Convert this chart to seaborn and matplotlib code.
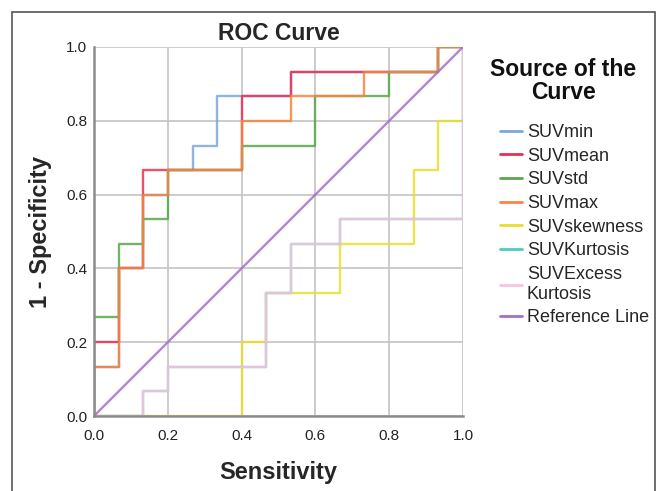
import matplotlib
matplotlib.use("Agg")
import matplotlib.pyplot as plt
import seaborn as sns
import pandas as pd
from matplotlib.patches import Rectangle
from matplotlib.lines import Line2D

# --- ROC coordinates (x = Sensitivity, y = 1 - Specificity) ---
suvmin_x = [0, 0, 0.067, 0.067, 0.133, 0.133, 0.2, 0.2, 0.267, 0.267, 0.333, 0.333, 0.533, 0.533, 0.933, 0.933, 1.0]
suvmin_y = [0, 0.133, 0.133, 0.4, 0.4, 0.6, 0.6, 0.667, 0.667, 0.733, 0.733, 0.867, 0.867, 0.933, 0.933, 1.0, 1.0]

suvmean_x = [0, 0, 0.067, 0.067, 0.133, 0.133, 0.4, 0.4, 0.533, 0.533, 0.933, 0.933, 1.0]
suvmean_y = [0, 0.2, 0.2, 0.4, 0.4, 0.667, 0.667, 0.867, 0.867, 0.933, 0.933, 1.0, 1.0]

suvstd_x = [0, 0, 0.067, 0.067, 0.133, 0.133, 0.2, 0.2, 0.4, 0.4, 0.6, 0.6, 0.8, 0.8, 0.933, 0.933, 1.0]
suvstd_y = [0, 0.267, 0.267, 0.467, 0.467, 0.533, 0.533, 0.667, 0.667, 0.733, 0.733, 0.867, 0.867, 0.933, 0.933, 1.0, 1.0]

suvmax_x = [0, 0, 0.067, 0.067, 0.133, 0.133, 0.2, 0.2, 0.4, 0.4, 0.533, 0.533, 0.733, 0.733, 0.933, 0.933, 1.0]
suvmax_y = [0, 0.133, 0.133, 0.4, 0.4, 0.6, 0.6, 0.667, 0.667, 0.8, 0.8, 0.867, 0.867, 0.933, 0.933, 1.0, 1.0]

suvskew_x = [0, 0.4, 0.4, 0.467, 0.467, 0.667, 0.667, 0.867, 0.867, 0.933, 0.933, 1.0, 1.0]
suvskew_y = [0, 0, 0.2, 0.2, 0.333, 0.333, 0.467, 0.467, 0.667, 0.667, 0.8, 0.8, 1.0]

suvkurt_x = [0, 0.133, 0.133, 0.2, 0.2, 0.467, 0.467, 0.533, 0.533, 0.667, 0.667, 1.0, 1.0]
suvkurt_y = [0, 0, 0.067, 0.067, 0.133, 0.133, 0.333, 0.333, 0.467, 0.467, 0.533, 0.533, 1.0]

suvexkurt_x = [0, 0.133, 0.133, 0.2, 0.2, 0.467, 0.467, 0.533, 0.533, 0.667, 0.667, 1.0, 1.0]
suvexkurt_y = [0, 0, 0.067, 0.067, 0.133, 0.133, 0.333, 0.333, 0.467, 0.467, 0.533, 0.533, 1.0]

ref_x = [0, 1]
ref_y = [0, 1]

curves = [
    ("SUVmin", suvmin_x, suvmin_y, "#7ea6e0"),
    ("SUVmean", suvmean_x, suvmean_y, "#ea3050"),
    ("SUVstd", suvstd_x, suvstd_y, "#5aa64e"),
    ("SUVmax", suvmax_x, suvmax_y, "#f5853f"),
    ("SUVskewness", suvskew_x, suvskew_y, "#e6de2c"),
    ("SUVKurtosis", suvkurt_x, suvkurt_y, "#4ccdbd"),
    ("SUVExcess\nKurtosis", suvexkurt_x, suvexkurt_y, "#f7c3e0"),
    ("Reference Line", ref_x, ref_y, "#a470c8"),
]

sns.set_theme(style="whitegrid")
plt.rcParams['font.family'] = ['Liberation Sans', 'DejaVu Sans']

fig = plt.figure(figsize=(6.6, 4.91), dpi=100)
ax = fig.add_axes([0.1424, 0.1527, 0.5591, 0.7516])

handles = []
for name, xs, ys, col in curves:
    df = pd.DataFrame({"Sensitivity": xs, "1 - Specificity": ys})
    sns.lineplot(data=df, x="Sensitivity", y="1 - Specificity", sort=False,
                 estimator=None, color=col, lw=1.7, alpha=0.85, ax=ax)
    handles.append(Line2D([0], [0], color=col, lw=2))

ax.set_xlim(0, 1)
ax.set_ylim(0, 1)
ax.set_xticks([0, 0.2, 0.4, 0.6, 0.8, 1.0])
ax.set_yticks([0, 0.2, 0.4, 0.6, 0.8, 1.0])
ax.set_xticklabels(["0.0", "0.2", "0.4", "0.6", "0.8", "1.0"])
ax.set_yticklabels(["0.0", "0.2", "0.4", "0.6", "0.8", "1.0"])
ax.grid(True, color="#c4c4c4", lw=1.2)
ax.set_axisbelow(True)
for s in ["top", "right"]:
    ax.spines[s].set_visible(False)
for s in ["left", "bottom"]:
    ax.spines[s].set_color("#8c8c8c")
    ax.spines[s].set_linewidth(1.8)
ax.tick_params(axis="both", labelsize=11, colors="#333333", length=3, width=0.8)
ax.tick_params(axis="x", pad=6)
ax.tick_params(axis="y", pad=2)
for lab in ax.get_xticklabels() + ax.get_yticklabels():
    lab.set_color("#222222")

ax.set_title("ROC Curve", fontsize=16.5, fontweight="bold", pad=5)
ax.set_xlabel("Sensitivity", fontsize=17, fontweight="bold", labelpad=13)
ax.set_ylabel("1 - Specificity", fontsize=17, fontweight="bold", labelpad=10)

# legend title drawn separately so it sits where the reference has it
fig.text(563 / 660, 1 - 81 / 491, "Source of the\nCurve", ha="center", va="center",
         fontsize=16.5, fontweight="bold", linespacing=0.95, color="#111111")

leg = fig.legend(handles, [c[0] for c in curves], loc="upper left",
                 bbox_to_anchor=(0.744, 0.7657), frameon=False, borderpad=0,
                 fontsize=13, handlelength=1.2, handletextpad=0.28,
                 labelspacing=0.37)

# outer frame of the chart panel
fig.patches.append(Rectangle((12 / 660, -0.1), (655 - 12) / 660, 1.1 - 12 / 491,
                             transform=fig.transFigure, fill=False,
                             edgecolor="#555555", lw=1.2))

fig.savefig("out.png", dpi=100)
